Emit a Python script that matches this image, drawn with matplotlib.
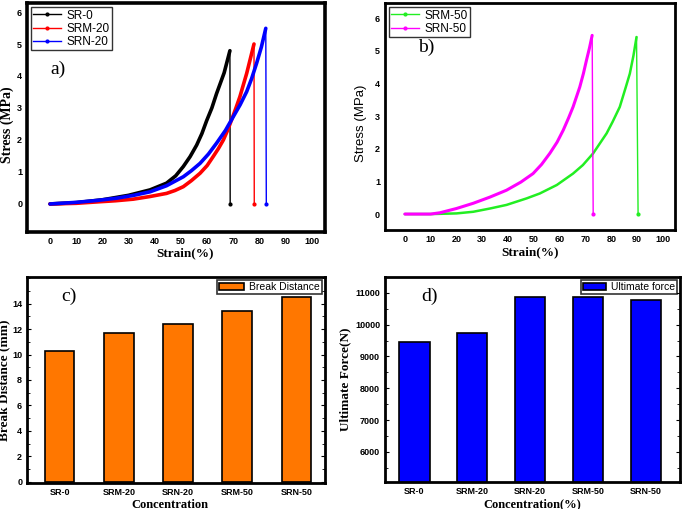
import matplotlib
matplotlib.use("Agg")
import matplotlib.pyplot as plt
import numpy as np
from matplotlib.ticker import MultipleLocator

# ---- data ----
# panel a: stress-strain curves (strain %, stress MPa)
sr0_strain = [0, 10, 20, 30, 38.2, 44.5, 48, 50.9, 53.5, 56, 58, 59.8, 61.8, 63.6, 66.5, 68.7]
sr0_stress = [0, 0.04, 0.13, 0.27, 0.44, 0.65, 0.88, 1.17, 1.48, 1.84, 2.2, 2.6, 3.0, 3.45, 4.1, 4.79]
sr0_break = 68.8

srm20_strain = [0, 10, 19.1, 25, 31.8, 38, 44.5, 47.7, 50.9, 54, 57.3, 60, 62.3, 64.3,
                66.2, 67.8, 69.3, 71, 72.5, 75.1, 77.9]
srm20_stress = [0, 0.02, 0.07, 0.1, 0.15, 0.23, 0.33, 0.42, 0.54, 0.73, 0.96, 1.2, 1.48, 1.73,
                2.0, 2.3, 2.62, 3.0, 3.35, 4.08, 5.0]
srm20_break = 78.0

srn20_strain = [0, 10, 18, 25.4, 32, 38.2, 44.5, 50.9, 54, 57.3, 60.5, 63.6, 67, 70,
                72.6, 75.1, 77, 78.9, 80.7, 82.4]
srn20_stress = [0, 0.05, 0.11, 0.18, 0.27, 0.38, 0.57, 0.85, 1.04, 1.27, 1.56, 1.9, 2.3, 2.73,
                3.1, 3.51, 3.92, 4.4, 4.9, 5.49]
srn20_break = 82.6

# panel b
srm50_strain = [0, 10, 20, 26.5, 33, 39.4, 47.2, 52.3, 58.9, 65.2, 69, 73, 78.2, 80.5,
                83.3, 85.5, 87.2, 88.6, 89.8]
srm50_stress = [0, 0, 0.02, 0.07, 0.17, 0.28, 0.48, 0.63, 0.89, 1.24, 1.5, 1.86, 2.47, 2.82,
                3.28, 3.85, 4.3, 4.85, 5.42]
srm50_break = 90.4

srn50_strain = [0, 10, 13.6, 20, 26.5, 33, 39.4, 45, 49.7, 53, 56.2, 59, 61.4, 63.5, 65.2,
                67.8, 69.2, 70.4, 71.6, 72.6]
srn50_stress = [0, 0, 0.04, 0.17, 0.33, 0.52, 0.73, 0.98, 1.24, 1.52, 1.86, 2.2, 2.57, 2.95, 3.28,
                3.89, 4.3, 4.71, 5.1, 5.47]
srn50_break = 73.0

# panels c, d
samples = ["SR-0", "SRM-20", "SRN-20", "SRM-50", "SRN-50"]
break_distance = [10.3, 11.7, 12.4, 13.4, 14.5]
ultimate_force = [9450, 9750, 10870, 10870, 10770]

serif = "Liberation Serif"
sans = "Liberation Sans"

fig = plt.figure(figsize=(6.85, 5.09), dpi=100)
ax_a = fig.add_axes([0.0394, 0.544, 0.435, 0.450])
ax_b = fig.add_axes([0.562, 0.548, 0.423, 0.446])
ax_c = fig.add_axes([0.0394, 0.051, 0.435, 0.405])
ax_d = fig.add_axes([0.562, 0.053, 0.431, 0.403])


def tensile(ax, xs, ys, brk, color, label, lw):
    ax.plot(xs, ys, color=color, lw=lw, solid_joinstyle="round", solid_capstyle="round")
    ax.plot([xs[-1], brk], [ys[-1], 0], color=color, lw=1.0)
    ax.plot([brk], [0], "o", color=color, ms=2)
    ax.plot([], [], color=color, lw=1.0, marker="o", ms=2, label=label)


def style_ticks(ax, size):
    for lab in ax.get_xticklabels() + ax.get_yticklabels():
        lab.set_fontweight("bold")
        lab.set_family(sans)
        lab.set_fontsize(size)


# ---- a) ----
tensile(ax_a, sr0_strain, sr0_stress, sr0_break, "black", "SR-0", 2.6)
tensile(ax_a, srm20_strain, srm20_stress, srm20_break, "red", "SRM-20", 2.6)
tensile(ax_a, srn20_strain, srn20_stress, srn20_break, "blue", "SRN-20", 2.6)
ax_a.set_xlim(-8.8, 105)
ax_a.set_ylim(-0.88, 6.28)
ax_a.set_xticks(range(0, 101, 10))
ax_a.set_yticks(range(0, 7))
ax_a.text(0, 4.05, "a)", fontsize=14, family=serif)
ax_a.set_xlabel("Strain(%)", family=serif, fontweight="bold", fontsize=9.5)
ax_a.set_ylabel("Stress (MPa)", family=serif, fontweight="bold", fontsize=10)
leg = ax_a.legend(loc="upper left", prop={"family": sans, "size": 8.5}, fancybox=False,
                  edgecolor="black", borderpad=0.2, handlelength=2.3, labelspacing=0.1,
                  borderaxespad=0.35, handletextpad=0.5)
leg.get_frame().set_linewidth(1.0)

# ---- b) ----
tensile(ax_b, srm50_strain, srm50_stress, srm50_break, "#22ee22", "SRM-50", 1.8)
tensile(ax_b, srn50_strain, srn50_stress, srn50_break, "magenta", "SRN-50", 2.2)
ax_b.set_xlim(-7.7, 104.6)
ax_b.set_ylim(-0.49, 6.46)
ax_b.set_xticks(range(0, 101, 10))
ax_b.set_yticks(range(0, 7))
ax_b.text(5, 4.95, "b)", fontsize=14, family=serif)
ax_b.set_xlabel("Strain(%)", family=serif, fontweight="bold", fontsize=9.5)
ax_b.set_ylabel("Stress (MPa)", family=sans, fontsize=9.5)
leg = ax_b.legend(loc="upper left", prop={"family": sans, "size": 8.5}, fancybox=False,
                  edgecolor="black", borderpad=0.2, handlelength=2.3, labelspacing=0.1,
                  borderaxespad=0.35, handletextpad=0.5)
leg.get_frame().set_linewidth(1.0)

for ax in (ax_a, ax_b):
    ax.tick_params(length=0, pad=3.5)
    style_ticks(ax, 6.5)

# ---- c) ----
x = np.arange(len(samples))
ax_c.bar(x, break_distance, width=0.5, color="#ff7700", edgecolor="black", lw=1.2,
         label="Break Distance")
ax_c.set_xlim(-0.55, 4.48)
ax_c.set_ylim(-0.1, 16.1)
ax_c.set_yticks(range(0, 15, 2))
ax_c.yaxis.set_minor_locator(MultipleLocator(1))
ax_c.set_xticks(x)
ax_c.set_xticklabels(samples)
ax_c.text(0.03, 14.2, "c)", fontsize=14, family=serif)
ax_c.set_xlabel("Concentration", family=serif, fontweight="bold", fontsize=9)
ax_c.set_ylabel("Break Distance (mm)", family=serif, fontweight="bold", fontsize=9.5)
leg = ax_c.legend(loc="upper right", prop={"family": sans, "size": 7.5}, fancybox=False,
                  edgecolor="black", borderpad=0.2, handlelength=2.4, borderaxespad=0.3,
                  handletextpad=0.5)
leg.get_frame().set_linewidth(1.2)

# ---- d) ----
ax_d.bar(x, ultimate_force, width=0.52, color="#0000ff", edgecolor="black",
         lw=1.2, label="Ultimate force")
ax_d.set_xlim(-0.51, 4.59)
ax_d.set_ylim(5050, 11500)
ax_d.set_yticks(range(6000, 11001, 1000))
ax_d.yaxis.set_minor_locator(MultipleLocator(500))
ax_d.set_xticks(x)
ax_d.set_xticklabels(samples)
ax_d.text(0.12, 10750, "d)", fontsize=14, family=serif)
ax_d.set_xlabel("Concentration(%)", family=serif, fontweight="bold", fontsize=9)
ax_d.set_ylabel("Ultimate Force(N)", family=serif, fontweight="bold", fontsize=9.5)
leg = ax_d.legend(loc="upper right", prop={"family": sans, "size": 7.5}, fancybox=False,
                  edgecolor="black", borderpad=0.2, handlelength=2.2, borderaxespad=0.3,
                  handletextpad=0.5)
leg.get_frame().set_linewidth(1.2)

for ax in (ax_c, ax_d):
    ax.tick_params(which="both", direction="in", right=True, pad=3.5)
    ax.tick_params(axis="x", length=0)
    ax.tick_params(axis="y", which="major", length=3)
    ax.tick_params(axis="y", which="minor", length=2)
    style_ticks(ax, 6.5)

# axis label positions (axes fraction), tight to the figure edge as in the reference
ax_a.yaxis.set_label_coords(-0.045, 0.47)
ax_b.yaxis.set_label_coords(-0.062, 0.47)
ax_c.yaxis.set_label_coords(-0.055, 0.5)
ax_d.yaxis.set_label_coords(-0.115, 0.5)
ax_a.xaxis.set_label_coords(0.53, -0.065)
ax_b.xaxis.set_label_coords(0.5, -0.07)
ax_c.xaxis.set_label_coords(0.48, -0.075)
ax_d.xaxis.set_label_coords(0.5, -0.08)
for ax in (ax_a, ax_b, ax_c, ax_d):
    ax.xaxis.label.set_verticalalignment("top")

for ax in (ax_a, ax_b, ax_c, ax_d):
    for sp in ax.spines.values():
        sp.set_linewidth(2.0)
for sp in ax_a.spines.values():
    sp.set_linewidth(2.6)

fig.savefig("out.png", dpi=100)
